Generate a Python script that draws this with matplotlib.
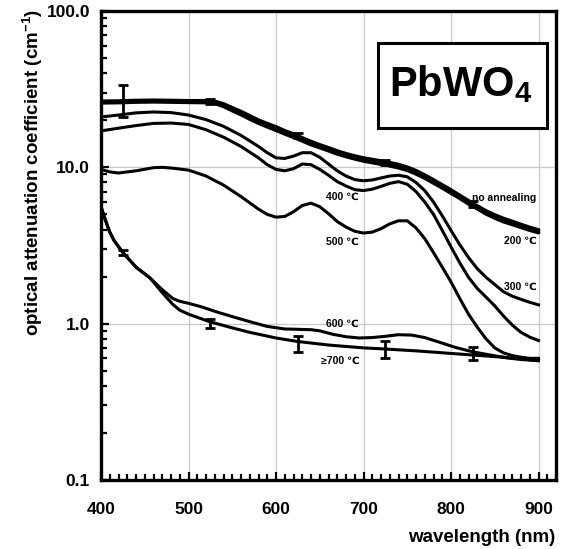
import matplotlib
matplotlib.use("Agg")
import matplotlib.pyplot as plt
from matplotlib.patches import Rectangle
from matplotlib.ticker import FixedLocator, MultipleLocator, FormatStrFormatter, NullFormatter

plt.rcParams['font.family'] = ['Liberation Sans', 'DejaVu Sans']
plt.rcParams['font.weight'] = 'bold'
plt.rcParams['mathtext.fontset'] = 'custom'
plt.rcParams['mathtext.bf'] = 'Liberation Sans:bold'
plt.rcParams['mathtext.rm'] = 'Liberation Sans:bold'
plt.rcParams['mathtext.default'] = 'bf'

# no annealing
wl_none = [400, 420, 440, 460, 480, 500, 520, 530, 540, 550, 560, 570, 580, 590, 600, 610, 620, 630,
           640, 650, 660, 670, 680, 690, 700, 710, 720, 730, 740, 750, 760, 770, 780, 790, 800,
           810, 820, 830, 840, 850, 860, 870, 880, 890, 900]
att_none = [26.4, 26.5, 26.7, 26.8, 26.7, 26.6, 26.6, 26.4, 25.4, 24.0, 22.7, 21.3, 20.0, 19.0, 18.1, 17.1,
            16.3, 15.4, 14.6, 13.9, 13.3, 12.7, 12.2, 11.8, 11.45, 11.2, 10.95, 10.7, 10.4, 10.0, 9.5,
            8.9, 8.3, 7.7, 7.15, 6.6, 6.1, 5.65, 5.25, 4.95, 4.7, 4.5, 4.3, 4.12, 3.97]
# 200 C
wl_200 = [400, 420, 440, 460, 480, 500, 520, 530, 540, 550, 560, 570, 580, 590, 600, 610, 620, 630,
          640, 650, 660, 670, 680, 690, 700, 710, 720, 730, 740, 750, 760, 770, 780, 790, 800,
          810, 820, 830, 840, 850, 860, 870, 880, 890, 900]
att_200 = [25.9, 26.0, 26.2, 26.3, 26.2, 26.1, 26.0, 25.7, 24.6, 23.1, 21.8, 20.4, 19.2, 18.2, 17.3, 16.4,
           15.6, 14.8, 14.0, 13.4, 12.8, 12.2, 11.75, 11.35, 11.0, 10.75, 10.5, 10.25, 9.95, 9.6, 9.1,
           8.55, 7.95, 7.4, 6.85, 6.35, 5.85, 5.45, 5.05, 4.75, 4.5, 4.32, 4.14, 3.97, 3.83]
# 300 C
wl_300 = [400, 420, 440, 460, 480, 500, 520, 540, 560, 580, 590, 600, 610, 620, 630, 640, 650, 660,
          670, 680, 690, 700, 710, 720, 730, 740, 750, 760, 770, 780, 790, 800, 810, 820, 830,
          840, 850, 860, 870, 880, 890, 900]
att_300 = [21.0, 21.6, 22.3, 22.6, 22.4, 21.6, 20.2, 18.3, 16.0, 13.6, 12.4, 11.5, 11.4, 11.8, 12.4, 12.4,
           11.6, 10.5, 9.5, 8.8, 8.35, 8.2, 8.3, 8.55, 8.8, 8.9, 8.7, 8.0, 7.1, 6.0, 4.9, 3.95, 3.2,
           2.65, 2.25, 1.98, 1.78, 1.6, 1.5, 1.43, 1.37, 1.32]
# 400 C
wl_400 = [400, 420, 440, 460, 480, 500, 520, 540, 560, 580, 590, 600, 610, 620, 630, 640, 650, 660,
          670, 680, 690, 700, 710, 720, 730, 740, 750, 760, 770, 780, 790, 800, 810, 820, 830,
          840, 850, 860, 870, 880, 890, 900]
att_400 = [17.1, 17.8, 18.5, 19.1, 19.2, 18.8, 17.4, 15.6, 13.6, 11.5, 10.4, 9.7, 9.5, 9.8, 10.5, 10.4,
           9.7, 8.9, 8.1, 7.6, 7.2, 7.1, 7.25, 7.55, 7.9, 8.1, 7.8, 7.0, 6.0, 5.0, 3.95, 3.1, 2.45,
           1.98, 1.68, 1.48, 1.3, 1.12, 0.98, 0.88, 0.82, 0.78]
# 500 C
wl_500 = [400, 410, 420, 440, 460, 470, 480, 500, 520, 540, 560, 580, 590, 600, 610, 620, 630, 640,
          650, 660, 670, 680, 690, 700, 710, 720, 730, 740, 750, 760, 770, 780, 790, 800, 810,
          820, 830, 840, 850, 860, 870, 880, 890, 900]
att_500 = [9.7, 9.35, 9.2, 9.5, 9.95, 10.0, 9.9, 9.6, 8.8, 7.7, 6.5, 5.4, 5.0, 4.8, 4.85, 5.2, 5.7, 5.9,
           5.6, 5.05, 4.5, 4.15, 3.9, 3.8, 3.85, 4.05, 4.35, 4.55, 4.55, 4.1, 3.5, 2.85, 2.3, 1.85,
           1.45, 1.15, 0.95, 0.8, 0.7, 0.65, 0.625, 0.61, 0.6, 0.6]
# 600 C
wl_600 = [400, 405, 410, 415, 425, 440, 456, 470, 482, 490, 500, 515, 532, 550, 570, 590, 610, 625,
          640, 650, 665, 680, 695, 710, 725, 740, 755, 770, 787, 805, 825, 845, 863, 880, 900]
att_600 = [5.6, 4.6, 3.85, 3.4, 2.85, 2.3, 1.96, 1.65, 1.45, 1.39, 1.35, 1.28, 1.19, 1.11, 1.03, 0.96,
           0.925, 0.92, 0.915, 0.9, 0.855, 0.825, 0.81, 0.815, 0.83, 0.85, 0.845, 0.815, 0.76, 0.705,
           0.66, 0.63, 0.605, 0.59, 0.58]
# >=700 C
wl_700 = [400, 405, 410, 415, 425, 440, 456, 470, 482, 490, 500, 524, 550, 570, 600, 624, 660, 700,
          722, 760, 800, 825, 860, 900]
att_700 = [5.6, 4.6, 3.85, 3.4, 2.85, 2.3, 1.96, 1.58, 1.33, 1.22, 1.15, 1.03, 0.94, 0.88, 0.81, 0.77,
           0.73, 0.70, 0.69, 0.67, 0.645, 0.63, 0.61, 0.58]

# error bars
err_none_wl = [425, 525, 625, 725, 825]
err_none_val = [26.3, 26.5, 16.0, 10.8, 5.85]
err_none_lo = [21.0, 25.6, 15.4, 10.4, 5.6]
err_none_hi = [33.6, 27.4, 16.6, 11.2, 6.1]
err_700_wl = [425, 525, 625, 725, 825]
err_700_val = [2.85, 1.0, 0.745, 0.69, 0.645]
err_700_lo = [2.75, 0.94, 0.66, 0.60, 0.585]
err_700_hi = [2.95, 1.07, 0.83, 0.77, 0.71]

labels = ["no annealing", "200 \u2103", "300 \u2103", "400 \u2103", "500 \u2103", "600 \u2103", "\u2265700 \u2103"]
label_wl = [861, 879, 879, 676, 676, 676, 673]
label_att = [6.36, 3.38, 1.71, 6.46, 3.33, 0.99, 0.577]

fig = plt.figure(figsize=(5.61, 5.49), dpi=100)
ax = fig.add_axes([101 / 561, 1 - 480 / 549, 455 / 561, 469 / 549])

lw = 2.2
ax.plot(wl_none, att_none, color='black', lw=lw + 0.6, solid_capstyle='round')
ax.plot(wl_200, att_200, color='black', lw=lw + 0.6, solid_capstyle='round')
ax.plot(wl_300, att_300, color='black', lw=lw)
ax.plot(wl_400, att_400, color='black', lw=lw)
ax.plot(wl_500, att_500, color='black', lw=lw)
ax.plot(wl_600, att_600, color='black', lw=lw)
ax.plot(wl_700, att_700, color='black', lw=lw)

for wls, vals, lo, hi in [(err_none_wl, err_none_val, err_none_lo, err_none_hi),
                          (err_700_wl, err_700_val, err_700_lo, err_700_hi)]:
    yerr = [[v - l for v, l in zip(vals, lo)], [h - v for v, h in zip(vals, hi)]]
    ax.errorbar(wls, vals, yerr=yerr, fmt='none', ecolor='black', elinewidth=2, capsize=3.5, capthick=2)

for t, x, y in zip(labels, label_wl, label_att):
    ax.text(x, y, t, fontsize=7.5, fontweight='bold', ha='center', va='center')

ax.set_yscale('log')
ax.set_xlim(400, 920)
ax.set_ylim(0.1, 100)
ax.xaxis.set_major_locator(FixedLocator([400, 500, 600, 700, 800, 900]))
ax.xaxis.set_minor_locator(MultipleLocator(10))
ax.yaxis.set_major_locator(FixedLocator([0.1, 1, 10, 100]))
ax.yaxis.set_major_formatter(FormatStrFormatter('%.1f'))
ax.yaxis.set_minor_formatter(NullFormatter())
ax.grid(True, which='major', color='#c8c8c8', lw=0.9)
ax.set_axisbelow(True)

ax.tick_params(which='both', direction='in', width=1.6, labelsize=12.5, top=False, right=False)
ax.tick_params(which='major', length=6)
ax.tick_params(which='minor', length=4)
ax.tick_params(axis='x', pad=16)
ax.tick_params(axis='y', pad=8)
for s in ax.spines.values():
    s.set_linewidth(2.4)

fig.text(555 / 561, 1 - 537 / 549, "wavelength (nm)", fontsize=13.5, fontweight='bold', ha='right', va='center')
fig.text(33 / 561, 1 - 172 / 549, r"optical attenuation coefficient (cm$^{-1}$)", fontsize=13.5,
         fontweight='bold', rotation=90, ha='center', va='center')

fig.patches.append(Rectangle((378 / 561, 1 - 128 / 549), 169 / 561, 85 / 549, transform=fig.transFigure,
                             fill=True, facecolor='white', edgecolor='black', lw=2.2, zorder=5))
fig.text(461 / 561, 1 - 84 / 549, r"PbWO$_4$", fontsize=30, fontweight='bold', ha='center', va='center', zorder=6)

fig.savefig("out.png", dpi=100)
